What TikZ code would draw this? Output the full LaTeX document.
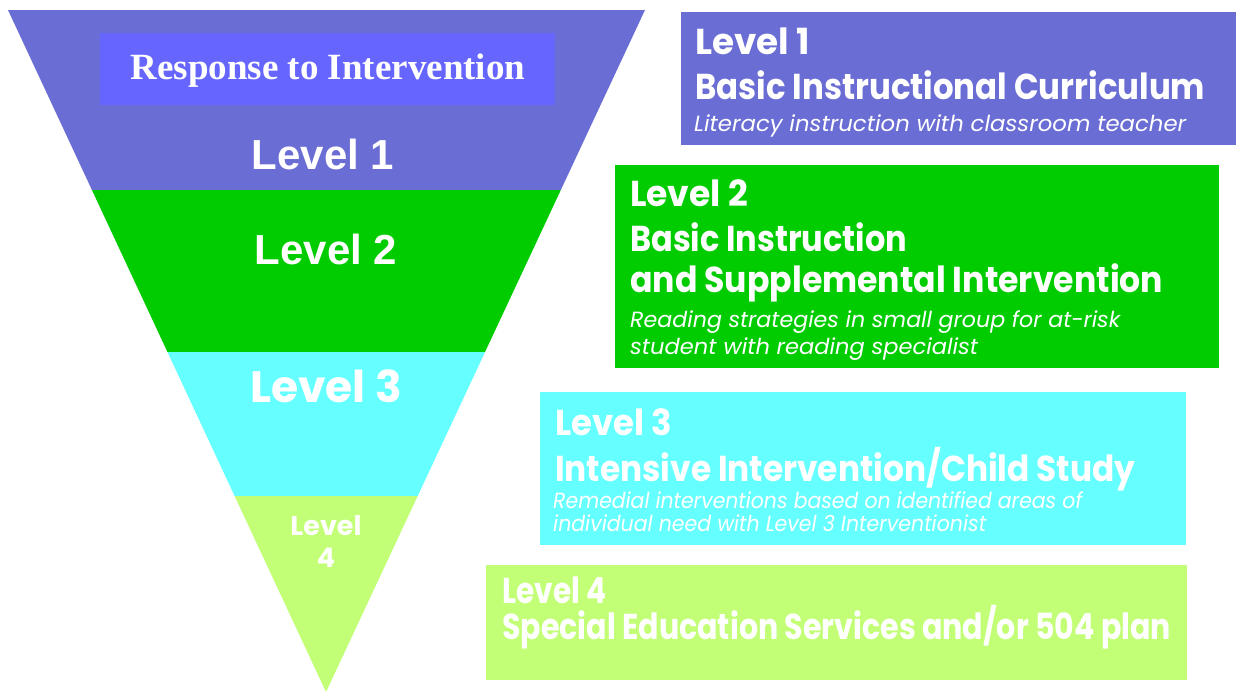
\documentclass[tikz,border=0pt]{standalone}
\usepackage{fontspec}
\setmainfont{Poppins}
\newfontfamily\arialfont{Liberation Sans}
\newfontfamily\timesfont{Liberation Serif}
\definecolor{rtipurple}{RGB}{106,109,211}
\definecolor{rtiblue}{RGB}{102,102,255}
\definecolor{rtigreen}{RGB}{0,204,0}
\definecolor{rticyan}{RGB}{102,255,255}
\definecolor{rtilime}{RGB}{194,255,119}
\newcommand{\fitw}[2]{\resizebox{#1}{\height}{#2}}
\tikzset{
  head/.style={anchor=base west, inner sep=0pt, text=white, font=\bfseries\fontsize{36}{36}\selectfont},
  note/.style={anchor=base west, inner sep=0pt, text=white, font=\itshape\fontsize{22}{22}\selectfont},
  tier/.style={anchor=base, inner sep=0pt, text=white, font=\arialfont\bfseries\fontsize{42}{42}\selectfont}
}
\begin{document}
\begin{tikzpicture}[x=1pt,y=-1pt]
        \useasboundingbox (0,0) rectangle (1236,692);

        % Entonnoir
        \begin{scope}
          \clip (8,10) -- (645,10) -- (326,692) -- cycle;
          \fill[rtipurple] (0,10) rectangle (660,190);
          \fill[rtigreen] (0,190) rectangle (660,352);
          \fill[rticyan] (0,352) rectangle (660,496);
          \fill[rtilime] (0,496) rectangle (660,692);
        \end{scope}

        % Titre
        \fill[rtiblue] (100,33) rectangle (555,105);
        \node[anchor=base, inner sep=0pt, text=white, font=\timesfont\bfseries\fontsize{37}{37}\selectfont] (title) at (328,80) {Response to Intervention};

        % Niveaux dans l'entonnoir
        \node[tier] (tier1) at (323,170) {Level 1};
        \node[tier] (tier2) at (326,265) {Level 2};
        \node[tier, font=\bfseries\fontsize{44}{44}\selectfont] (tier3) at (326,402) {Level 3};
        \node[tier, font=\bfseries\fontsize{27}{27}\selectfont] (tier4a) at (326,535) {Level};
        \node[tier, font=\bfseries\fontsize{27}{27}\selectfont] (tier4b) at (326,567) {4};

        % Niveau 1
        \fill[rtipurple] (681,12) rectangle (1236,145);
        \node[head] (lvla) at (695,55) {\fitw{115pt}{Level 1}};
        \node[head] (lvlb) at (695,100) {\fitw{510pt}{Basic Instructional Curriculum}};
        \node[note] (lvlc) at (694,132) {\fitw{492pt}{Literacy instruction with classroom teacher}};

        % Niveau 2
        \fill[rtigreen] (615,165) rectangle (1219,368);
        \node[head] (lvld) at (630,207) {\fitw{118pt}{Level 2}};
        \node[head] (lvle) at (630,252) {\fitw{277pt}{Basic Instruction}};
        \node[head] (lvlf) at (630,293) {\fitw{533pt}{and Supplemental Intervention}};
        \node[note] (lvlg) at (630,327) {\fitw{490pt}{Reading strategies in small group for at-risk}};
        \node[note] (lvlh) at (630,355) {\fitw{348pt}{student with reading specialist}};

        % Niveau 3
        \fill[rticyan] (540,392) rectangle (1186,545);
        \node[head] (lvli) at (555,435) {\fitw{117pt}{Level 3}};
        \node[head] (lvlj) at (555,481) {\fitw{580pt}{Intensive Intervention/Child Study}};
        \node[note] (lvlk) at (553,508) {\fitw{529pt}{Remedial interventions based on identified areas of}};
        \node[note] (lvll) at (553,531) {\fitw{433pt}{individual need with Level 3 Interventionist}};

        % Niveau 4
        \fill[rtilime] (486,565) rectangle (1187,680);
        \node[head] (lvlm) at (502,603) {\fitw{104pt}{Level 4}};
        \node[head] (lvln) at (502,639) {\fitw{669pt}{Special Education Services and/or 504 plan}};
      \end{tikzpicture}
\end{document}
